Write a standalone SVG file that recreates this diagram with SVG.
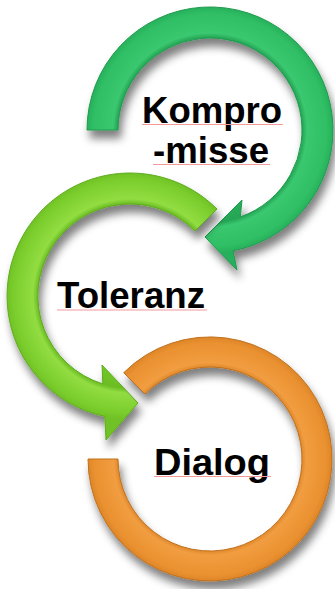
<svg xmlns="http://www.w3.org/2000/svg" width="335" height="589" viewBox="0 0 335 589">
  <style>
    .lbl { font-family: "Liberation Sans", Arial, sans-serif; font-weight: bold; font-size: 37px; fill: #000; }
    .spell { stroke: #f29a9a; stroke-width: 1; fill: none; }
    .ring { stroke-width: 1; stroke-linejoin: round; }
  </style>
  <defs>
    <filter id="shadow" x="-25%" y="-25%" width="150%" height="150%">
      <feGaussianBlur in="SourceAlpha" stdDeviation="4"/>
      <feOffset dx="3" dy="8" result="blur"/>
      <feFlood flood-color="#000" flood-opacity="0.5"/>
      <feComposite in2="blur" operator="in"/>
      <feMerge><feMergeNode/><feMergeNode in="SourceGraphic"/></feMerge>
    </filter>
    <radialGradient id="gTop" gradientUnits="userSpaceOnUse" cx="210" cy="130" r="123">
      <stop offset="0.60" stop-color="#29b05c"/>
      <stop offset="0.75" stop-color="#25a555"/>
      <stop offset="0.79" stop-color="#3ac86f"/>
      <stop offset="0.95" stop-color="#2fbe64"/>
      <stop offset="1" stop-color="#28b05b"/>
    </radialGradient>
    <radialGradient id="gMid" gradientUnits="userSpaceOnUse" cx="130" cy="296" r="123">
      <stop offset="0.60" stop-color="#72c828"/>
      <stop offset="0.75" stop-color="#6cbd24"/>
      <stop offset="0.79" stop-color="#92dd42"/>
      <stop offset="0.95" stop-color="#7acd2c"/>
      <stop offset="1" stop-color="#70c226"/>
    </radialGradient>
    <radialGradient id="gBot" gradientUnits="userSpaceOnUse" cx="210" cy="459" r="122">
      <stop offset="0.74" stop-color="#d98226"/>
      <stop offset="0.79" stop-color="#f19d40"/>
      <stop offset="0.95" stop-color="#ea9130"/>
      <stop offset="1" stop-color="#dd8629"/>
    </radialGradient>
  </defs>
  <rect width="335" height="589" fill="#fff"/>

  <g id="node-kompromisse">
    <path class="ring" filter="url(#shadow)" fill="url(#gTop)" stroke="#1f9a4e"
      d="M87,130 A123,123 0 1 1 233,250.8 L237,270 L205,237 L242,200 L240.3,216.9 A92,92 0 1 0 118,130 Z"/>
    <text class="lbl" x="142" y="123" textLength="140" lengthAdjust="spacingAndGlyphs">Kompro</text>
    <text class="lbl" x="153" y="163" textLength="116" lengthAdjust="spacingAndGlyphs">-misse</text>
    <line class="spell" x1="142" y1="124.5" x2="283" y2="124.5"/>
    <line class="spell" x1="153" y1="164.5" x2="270" y2="164.5"/>
  </g>

  <g id="node-toleranz">
    <path class="ring" filter="url(#shadow)" fill="url(#gMid)" stroke="#5fab1f"
      d="M217,209 A123,123 0 1 0 104.85,416.4 L106,440 L138,403 L102,365 L102.8,383.9 A92,92 0 1 1 195,231 Z"/>
    <text class="lbl" x="57" y="308" textLength="148" lengthAdjust="spacingAndGlyphs">Toleranz</text>
    <line class="spell" x1="57" y1="310" x2="207" y2="310"/>
  </g>

  <g id="node-dialog">
    <path class="ring" filter="url(#shadow)" fill="url(#gBot)" stroke="#c0701c"
      d="M123.7,372.7 A122,122 0 1 1 88,459 L118,459 A92,92 0 1 0 144.95,393.95 Z"/>
    <text class="lbl" x="154" y="475" textLength="116" lengthAdjust="spacingAndGlyphs">Dialog</text>
    <line class="spell" x1="154" y1="476.5" x2="271" y2="476.5"/>
  </g>
</svg>
